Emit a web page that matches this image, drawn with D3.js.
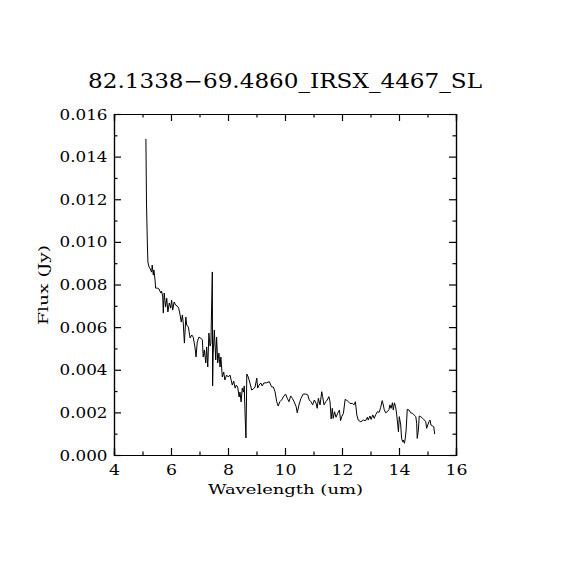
<!DOCTYPE html>
<html>
<head>
<meta charset="utf-8">
<script src="https://cdn.jsdelivr.net/npm/d3@7"></script>
<style>
  html, body { margin: 0; padding: 0; background: #fff; }
  svg { display: block; }
  text { font-family: "DejaVu Serif", serif; fill: #000; }
</style>
</head>
<body>
<script>
const title = "82.1338\u221269.4860_IRSX_4467_SL";
const xLabel = "Wavelength (um)";
const yLabel = "Flux (Jy)";
const xTicks = [4, 6, 8, 10, 12, 14, 16];
const yTicks = [0, 0.002, 0.004, 0.006, 0.008, 0.010, 0.012, 0.014, 0.016];
const xMinorTicks = [5, 7, 9, 11, 13, 15];
const yMinorTicks = [0.001, 0.003, 0.005, 0.007, 0.009, 0.011, 0.013, 0.015];

const wavelength = [
  5.12, 5.14, 5.17, 5.19, 5.23, 5.26, 5.32, 5.34, 5.38, 5.40,
  5.44, 5.46, 5.52, 5.58, 5.64, 5.67, 5.71, 5.73, 5.76, 5.81,
  5.85, 5.89, 5.94, 5.99, 6.02, 6.06, 6.11, 6.16, 6.22, 6.27,
  6.32, 6.36, 6.40, 6.43, 6.47, 6.52, 6.55, 6.61, 6.67, 6.73,
  6.78, 6.84, 6.88, 6.92, 6.98, 7.04, 7.10, 7.13, 7.17, 7.22,
  7.25, 7.29, 7.33, 7.37, 7.40, 7.45, 7.46, 7.48, 7.52, 7.57,
  7.60, 7.64, 7.68, 7.72, 7.75, 7.80, 7.85, 7.89, 7.95, 8.01,
  8.07, 8.11, 8.15, 8.20, 8.25, 8.29, 8.34, 8.39, 8.42, 8.46,
  8.50, 8.54, 8.57, 8.60, 8.63, 8.66, 8.71, 8.77, 8.83, 8.89,
  8.95, 9.01, 9.04, 9.09, 9.15, 9.20, 9.26, 9.36, 9.45, 9.53,
  9.59, 9.65, 9.71, 9.76, 9.82, 9.88, 9.94, 10.02, 10.08, 10.14,
  10.20, 10.26, 10.32, 10.39, 10.43, 10.49, 10.56, 10.64, 10.73, 10.80,
  10.85, 10.91, 10.97, 11.03, 11.09, 11.13, 11.17, 11.23, 11.29, 11.32,
  11.37, 11.43, 11.48, 11.54, 11.58, 11.62, 11.66, 11.69, 11.74, 11.79,
  11.85, 11.91, 11.95, 11.99, 12.05, 12.11, 12.16, 12.22, 12.28, 12.37,
  12.42, 12.47, 12.52, 12.57, 12.66, 12.75, 12.83, 12.89, 12.92, 12.98,
  13.02, 13.08, 13.13, 13.19, 13.24, 13.30, 13.36, 13.41, 13.45, 13.48,
  13.53, 13.59, 13.65, 13.68, 13.72, 13.77, 13.80, 13.84, 13.88, 13.92,
  13.94, 13.98, 14.01, 14.06, 14.09, 14.13, 14.15, 14.19, 14.22, 14.25,
  14.29, 14.35, 14.41, 14.47, 14.53, 14.59, 14.62, 14.64, 14.68, 14.71,
  14.76, 14.83, 14.89, 14.94, 14.97, 15.01, 15.05, 15.09, 15.12, 15.17,
  15.22, 15.25
];
const flux = [
  0.01483, 0.01182, 0.00995, 0.00905, 0.00882, 0.00877, 0.00858, 0.00891, 0.00844, 0.00868,
  0.00821, 0.00783, 0.00783, 0.00779, 0.00760, 0.00769, 0.00741, 0.00666, 0.00760, 0.00694,
  0.00736, 0.00671, 0.00713, 0.00689, 0.00727, 0.00680, 0.00718, 0.00704, 0.00699, 0.00689,
  0.00657, 0.00624, 0.00657, 0.00619, 0.00525, 0.00647, 0.00610, 0.00600, 0.00549, 0.00563,
  0.00553, 0.00507, 0.00460, 0.00530, 0.00553, 0.00549, 0.00540, 0.00460, 0.00493, 0.00432,
  0.00507, 0.00413, 0.00572, 0.00511, 0.00525, 0.00859, 0.00324, 0.00478, 0.00586, 0.00446,
  0.00553, 0.00432, 0.00478, 0.00413, 0.00460, 0.00366, 0.00389, 0.00352, 0.00375, 0.00366,
  0.00375, 0.00352, 0.00328, 0.00347, 0.00314, 0.00328, 0.00319, 0.00272, 0.00295, 0.00249,
  0.00314, 0.00295, 0.00324, 0.00188, 0.00080, 0.00380, 0.00366, 0.00338, 0.00305, 0.00310,
  0.00319, 0.00361, 0.00314, 0.00328, 0.00338, 0.00324, 0.00338, 0.00339, 0.00344, 0.00320,
  0.00319, 0.00297, 0.00250, 0.00230, 0.00250, 0.00258, 0.00273, 0.00286, 0.00266, 0.00250,
  0.00277, 0.00266, 0.00250, 0.00227, 0.00198, 0.00235, 0.00266, 0.00286, 0.00286, 0.00282,
  0.00258, 0.00250, 0.00235, 0.00258, 0.00243, 0.00219, 0.00266, 0.00235, 0.00297, 0.00274,
  0.00235, 0.00250, 0.00258, 0.00274, 0.00250, 0.00169, 0.00219, 0.00172, 0.00203, 0.00177,
  0.00196, 0.00211, 0.00161, 0.00180, 0.00196, 0.00261, 0.00258, 0.00250, 0.00242, 0.00242,
  0.00235, 0.00250, 0.00188, 0.00164, 0.00156, 0.00164, 0.00161, 0.00177, 0.00164, 0.00183,
  0.00167, 0.00188, 0.00172, 0.00191, 0.00203, 0.00200, 0.00224, 0.00255, 0.00235, 0.00214,
  0.00198, 0.00203, 0.00214, 0.00235, 0.00219, 0.00245, 0.00211, 0.00245, 0.00227, 0.00188,
  0.00164, 0.00109, 0.00180, 0.00141, 0.00078, 0.00062, 0.00070, 0.00055, 0.00078, 0.00117,
  0.00214, 0.00211, 0.00198, 0.00196, 0.00188, 0.00180, 0.00149, 0.00078, 0.00117, 0.00183,
  0.00180, 0.00172, 0.00164, 0.00156, 0.00125, 0.00141, 0.00156, 0.00164, 0.00141, 0.00137,
  0.00133, 0.00098
];

const W = 570, H = 570;
const plot = { left: 114, right: 456, top: 114, bottom: 455 };

const svg = d3.select("body").append("svg").attr("width", W).attr("height", H);

const x = d3.scaleLinear().domain([4, 16]).range([plot.left, plot.right]);
const y = d3.scaleLinear().domain([0, 0.016]).range([plot.bottom, plot.top]);

const major = 7, minor = 3.5;

// bottom axis with labels
const gB = svg.append("g").attr("transform", `translate(0,${plot.bottom})`);
gB.call(d3.axisBottom(x).tickValues(xTicks).tickSize(-major).tickPadding(0).tickFormat(d3.format("d")));
gB.append("g").call(d3.axisBottom(x).tickValues(xMinorTicks).tickSize(-minor).tickFormat(""));
// top axis
const gT = svg.append("g").attr("transform", `translate(0,${plot.top})`);
gT.call(d3.axisTop(x).tickValues(xTicks).tickSize(-major).tickFormat(""));
gT.append("g").call(d3.axisTop(x).tickValues(xMinorTicks).tickSize(-minor).tickFormat(""));
// left axis with labels
const gL = svg.append("g").attr("transform", `translate(${plot.left},0)`);
gL.call(d3.axisLeft(y).tickValues(yTicks).tickSize(-major).tickPadding(0).tickFormat(d3.format(".3f")));
gL.append("g").call(d3.axisLeft(y).tickValues(yMinorTicks).tickSize(-minor).tickFormat(""));
// right axis
const gR = svg.append("g").attr("transform", `translate(${plot.right},0)`);
gR.call(d3.axisRight(y).tickValues(yTicks).tickSize(-major).tickFormat(""));
gR.append("g").call(d3.axisRight(y).tickValues(yMinorTicks).tickSize(-minor).tickFormat(""));

svg.selectAll(".domain").attr("stroke", "#000").attr("stroke-width", 1.2);
svg.selectAll(".tick line").attr("stroke", "#000").attr("stroke-width", 1.2);
svg.selectAll(".tick text").attr("font-family", "DejaVu Serif").attr("font-size", 14).attr("fill", "#000");

gB.selectAll(".tick text")
  .attr("y", 20).attr("dy", 0)
  .each(function() {
    const t = d3.select(this);
    t.attr("textLength", t.text().length * 11).attr("lengthAdjust", "spacingAndGlyphs");
  });
gL.selectAll(".tick text")
  .attr("x", -6.5).attr("dy", "0.36em")
  .attr("textLength", 48).attr("lengthAdjust", "spacingAndGlyphs");

// data line
const pts = wavelength.map((w, i) => [w, flux[i]]);
svg.append("path")
  .datum(pts)
  .attr("fill", "none")
  .attr("stroke", "#000")
  .attr("stroke-width", 1)
  .attr("d", d3.line().x(d => x(d[0])).y(d => y(d[1])));

// title
svg.append("text")
  .attr("x", 285)
  .attr("y", 88)
  .attr("text-anchor", "middle")
  .attr("font-size", 20.5)
  .attr("textLength", 394)
  .attr("lengthAdjust", "spacingAndGlyphs")
  .text(title);

// x label
svg.append("text")
  .attr("x", 285.5)
  .attr("y", 494)
  .attr("text-anchor", "middle")
  .attr("font-size", 13.5)
  .attr("textLength", 155)
  .attr("lengthAdjust", "spacingAndGlyphs")
  .text(xLabel);

// y label
svg.append("text")
  .attr("transform", `translate(48,285) rotate(-90)`)
  .attr("text-anchor", "middle")
  .attr("font-size", 13.5)
  .attr("textLength", 80)
  .attr("lengthAdjust", "spacingAndGlyphs")
  .text(yLabel);
</script>
</body>
</html>
